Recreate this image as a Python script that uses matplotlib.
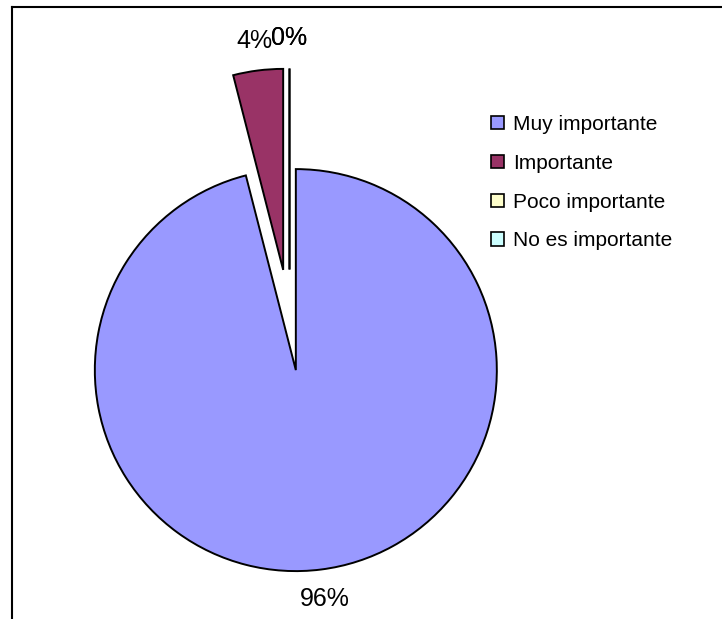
import matplotlib
matplotlib.use("Agg")
import matplotlib.pyplot as plt
from matplotlib.patches import Patch
from matplotlib.lines import Line2D

plt.rcParams['font.family'] = ['Liberation Sans', 'DejaVu Sans']

categories = ["Muy importante", "Importante", "Poco importante", "No es importante"]
values = [96, 4, 0, 0]
colors = ["#9999FF", "#993366", "#FFFFCC", "#CCFFFF"]

W, H = 722, 619
fig = plt.figure(figsize=(W / 100, H / 100), dpi=100)
ax = fig.add_axes([0, 0, 1, 1])

radius = 201
wedges, texts, autotexts = ax.pie(
    values,
    colors=colors,
    startangle=90,
    counterclock=False,
    explode=[50.5] * len(values),
    center=(289.5, 299),
    radius=radius,
    autopct='%1.0f%%',
    pctdistance=1.15,
    wedgeprops=dict(edgecolor='black', linewidth=1.4),
    textprops=dict(fontsize=18, color='black'),
    frame=True,
)
ax.set_xlim(0, W)
ax.set_ylim(0, H)
ax.set_aspect('equal')
ax.axis('off')

handles = [Patch(facecolor=c, edgecolor='black', linewidth=1.2) for c in colors]
ax.legend(handles, categories, loc='upper left',
          bbox_to_anchor=(491, H - 115), bbox_transform=ax.transData,
          frameon=False, fontsize=15, borderpad=0, borderaxespad=0,
          handlelength=0.6, handleheight=0.6, handletextpad=0.45,
          labelspacing=0.95)

# chart-area frame (left and top edges)
fig.add_artist(Line2D([11.5 / W, 11.5 / W], [0, 1 - 6.5 / H], color='black', lw=1.5,
                      transform=fig.transFigure))
fig.add_artist(Line2D([11.5 / W, 1], [1 - 6.5 / H, 1 - 6.5 / H], color='black', lw=1.5,
                      transform=fig.transFigure))

fig.savefig("out.png", dpi=100)
